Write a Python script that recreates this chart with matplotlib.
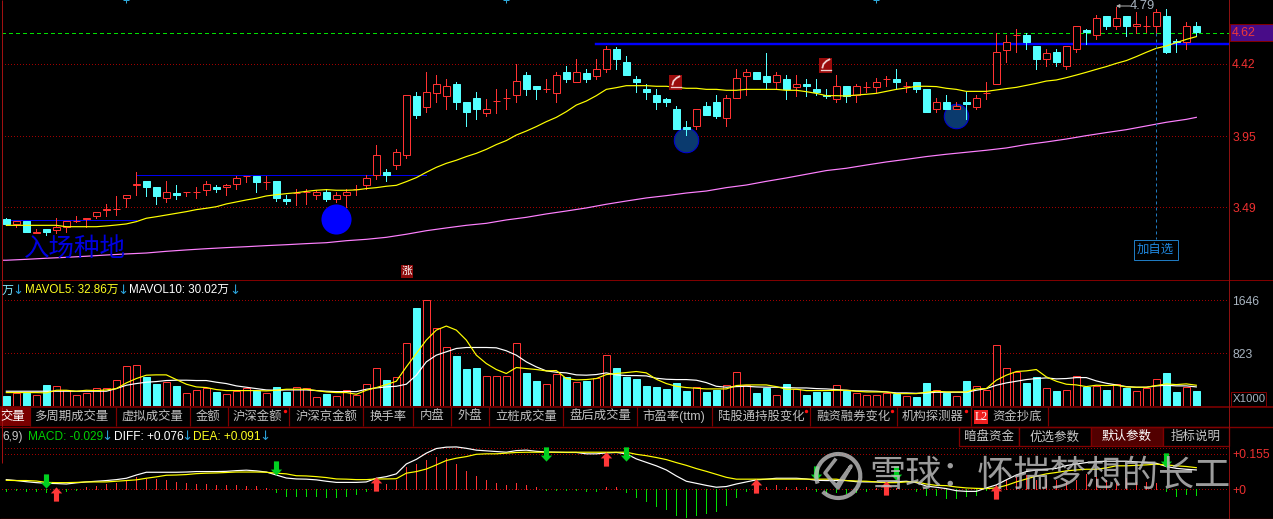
import matplotlib
matplotlib.use("Agg")
import matplotlib.pyplot as plt
from matplotlib.patches import Rectangle, Arc
from matplotlib.path import Path

# ---------- data ----------
opens = [3.41,3.38,3.40,3.32,3.35,3.34,3.36,3.40,3.41,3.43,
         3.47,3.48,3.55,3.63,3.66,3.62,3.55,3.58,3.59,3.59,
         3.60,3.62,3.62,3.64,3.69,3.69,3.65,3.66,3.54,3.58,
         3.59,3.57,3.59,3.54,3.57,3.61,3.63,3.70,3.72,3.76,
         3.83,4.21,4.14,4.23,4.21,4.29,4.17,4.20,4.10,4.18,
         4.20,4.22,4.35,4.28,4.26,4.23,4.37,4.30,4.36,4.34,
         4.39,4.52,4.43,4.32,4.26,4.22,4.19,4.13,4.01,4.02,
         4.15,4.17,4.07,4.20,4.34,4.37,4.34,4.30,4.32,4.27,
         4.29,4.26,4.22,4.19,4.28,4.22,4.27,4.27,4.32,4.32,
         4.28,4.30,4.26,4.13,4.17,4.13,4.17,4.14,4.23,4.29,
         4.51,4.61,4.61,4.54,4.45,4.50,4.41,4.52,4.64,4.61,
         4.73,4.67,4.73,4.67,4.67,4.67,4.73,4.57,4.56,4.67]
highs = [3.42,3.40,3.40,3.35,3.35,3.42,3.40,3.43,3.42,3.46,
         3.51,3.56,3.57,3.72,3.66,3.62,3.66,3.63,3.59,3.62,
         3.66,3.63,3.64,3.69,3.69,3.69,3.69,3.66,3.57,3.61,
         3.61,3.60,3.61,3.59,3.61,3.63,3.70,3.89,3.74,3.87,
         4.22,4.24,4.37,4.35,4.32,4.30,4.17,4.24,4.19,4.26,
         4.26,4.42,4.37,4.28,4.32,4.37,4.41,4.45,4.39,4.45,
         4.54,4.53,4.47,4.34,4.29,4.26,4.20,4.15,4.05,4.13,
         4.17,4.22,4.22,4.39,4.39,4.37,4.49,4.37,4.35,4.35,
         4.32,4.32,4.26,4.35,4.28,4.29,4.30,4.33,4.34,4.39,
         4.30,4.30,4.26,4.20,4.22,4.17,4.24,4.22,4.30,4.62,
         4.61,4.65,4.62,4.54,4.52,4.52,4.54,4.67,4.65,4.74,
         4.73,4.79,4.73,4.76,4.73,4.78,4.78,4.58,4.69,4.69]
lows = [3.37,3.36,3.33,3.32,3.31,3.32,3.33,3.39,3.36,3.42,
        3.43,3.44,3.49,3.57,3.56,3.51,3.52,3.54,3.56,3.55,
        3.57,3.59,3.57,3.61,3.65,3.59,3.61,3.53,3.51,3.50,
        3.51,3.54,3.53,3.52,3.49,3.57,3.61,3.67,3.66,3.74,
        3.81,4.07,4.11,4.17,4.13,4.13,4.02,4.06,4.08,4.10,
        4.13,4.17,4.22,4.19,4.24,4.17,4.30,4.30,4.30,4.32,
        4.37,4.39,4.35,4.24,4.19,4.13,4.15,4.00,3.96,4.00,
        4.09,4.07,4.02,4.20,4.22,4.32,4.26,4.26,4.19,4.21,
        4.21,4.22,4.20,4.17,4.17,4.17,4.24,4.24,4.28,4.26,
        4.24,4.24,4.11,4.11,4.13,4.13,4.06,4.13,4.19,4.29,
        4.43,4.50,4.52,4.39,4.41,4.41,4.39,4.50,4.55,4.58,
        4.65,4.65,4.60,4.62,4.63,4.61,4.49,4.50,4.52,4.60]
closes = [3.38,3.40,3.33,3.33,3.33,3.36,3.40,3.40,3.42,3.46,
          3.48,3.48,3.57,3.64,3.62,3.56,3.59,3.57,3.59,3.59,
          3.64,3.61,3.63,3.68,3.69,3.65,3.65,3.55,3.53,3.58,
          3.59,3.59,3.54,3.57,3.59,3.61,3.68,3.83,3.70,3.85,
          4.22,4.09,4.24,4.29,4.28,4.17,4.11,4.13,4.13,4.18,
          4.20,4.31,4.26,4.26,4.26,4.35,4.32,4.37,4.32,4.39,
          4.52,4.45,4.35,4.30,4.24,4.17,4.17,4.00,4.00,4.13,
          4.09,4.08,4.20,4.33,4.37,4.32,4.30,4.35,4.26,4.29,
          4.28,4.24,4.21,4.28,4.21,4.28,4.27,4.30,4.32,4.30,
          4.28,4.26,4.11,4.17,4.13,4.15,4.16,4.20,4.23,4.50,
          4.56,4.61,4.56,4.45,4.49,4.43,4.54,4.67,4.63,4.72,
          4.67,4.72,4.67,4.68,4.67,4.76,4.50,4.56,4.67,4.63]
ma_yellow = [3.371,3.371,3.371,3.371,3.371,3.371,3.362,3.362,3.362,3.362,
             3.367,3.373,3.380,3.395,3.417,3.427,3.438,3.449,3.460,3.473,
             3.482,3.492,3.510,3.523,3.536,3.547,3.562,3.570,3.577,3.583,
             3.592,3.599,3.603,3.599,3.599,3.601,3.610,3.616,3.625,3.631,
             3.655,3.681,3.716,3.748,3.774,3.794,3.818,3.839,3.865,3.896,
             3.922,3.958,3.984,4.013,4.045,4.073,4.110,4.153,4.179,4.214,
             4.255,4.266,4.279,4.279,4.279,4.275,4.275,4.268,4.262,4.262,
             4.255,4.255,4.249,4.249,4.255,4.255,4.255,4.255,4.249,4.249,
             4.240,4.229,4.214,4.214,4.212,4.218,4.223,4.229,4.242,4.255,
             4.264,4.275,4.275,4.273,4.262,4.255,4.242,4.242,4.242,4.251,
             4.260,4.268,4.281,4.294,4.309,4.316,4.331,4.348,4.366,4.385,
             4.403,4.424,4.442,4.468,4.496,4.522,4.537,4.559,4.580,4.598]
ma_pink_idx = [-0.4] + list(range(0, 120, 2)) + [119]
ma_pink = [3.144,3.144,3.150,3.157,3.163,3.170,3.178,3.185,3.191,3.202,3.211,
           3.219,3.226,3.232,3.239,3.245,3.252,3.258,3.271,3.280,3.293,
           3.313,3.336,3.354,3.371,3.384,3.406,3.423,3.445,3.464,3.484,
           3.508,3.529,3.549,3.564,3.581,3.594,3.616,3.633,3.657,3.679,
           3.703,3.727,3.742,3.763,3.783,3.800,3.818,3.833,3.846,3.859,
           3.874,3.896,3.913,3.932,3.954,3.974,3.993,4.017,4.041,4.060,4.073]
volumes = [156,213,213,182,327,322,254,182,213,291,
           280,415,633,649,452,343,379,311,213,260,
           291,218,197,244,291,244,213,296,218,306,
           291,151,187,166,260,182,353,602,405,462,
           976,1526,1645,1209,913,778,576,592,477,477,
           477,976,514,389,353,509,452,384,389,446,
           804,592,452,420,311,296,265,358,234,306,
           218,249,337,540,337,202,280,182,343,275,
           171,218,218,337,234,213,182,182,213,197,
           166,140,358,260,202,166,389,322,260,945,
           602,529,358,452,291,234,260,467,296,322,
           249,353,291,244,291,431,514,218,306,234]
mavol5 = [213,213,213,213,208,249,249,234,249,244,
          254,275,363,431,483,488,488,415,343,301,
          291,260,244,244,244,244,239,249,265,265,
          265,244,223,213,213,187,249,291,337,389,
          612,820,1028,1183,1246,1183,1028,794,664,571,
          509,602,586,571,550,555,431,410,415,431,
          493,509,524,540,519,420,353,311,291,280,
          270,270,270,322,332,332,332,306,265,265,
          244,244,244,249,249,234,223,223,223,197,
          197,197,218,234,223,223,223,270,275,405,
          483,540,550,571,457,389,343,332,306,327,
          322,327,301,296,296,322,348,337,348,327]
mavol10 = [234,234,234,234,234,234,234,234,234,234,
           234,275,327,353,374,384,400,405,405,400,
           400,374,353,317,296,275,254,249,254,254,
           254,244,234,228,228,228,265,285,301,311,
           343,483,690,794,846,898,913,913,913,908,
           862,794,690,612,550,529,519,488,483,493,
           519,488,477,477,472,436,420,415,415,405,
           368,311,296,306,311,301,296,296,291,285,
           285,275,270,260,249,239,239,234,223,208,
           208,202,208,218,218,218,218,249,275,327,
           363,389,415,431,441,426,431,446,446,394,
           358,332,306,296,296,317,327,317,317,301]
macd_hist = [-.006,-.004,-.006,-.009,-.010,-.007,-.006,-.002,.010,.014,
             .023,.029,.039,.052,.045,.045,.039,.032,.029,.023,
             .025,.019,.019,.019,.014,.014,.006,-.012,-.029,-.029,
             -.029,-.029,-.033,-.033,-.029,-.020,-.006,.012,.023,.039,
             .097,.112,.128,.141,.136,.110,.080,.058,.041,.028,
             .019,.028,.019,.010,-.002,-.002,-.002,-.001,-.006,-.006,
             .010,.010,-.010,-.033,-.051,-.072,-.086,-.112,-.125,-.112,
             -.103,-.094,-.068,-.033,-.006,.010,.010,.019,.010,.010,
             .010,-.006,-.015,-.010,-.015,-.012,-.006,.004,.004,.004,
             .003,-.007,-.025,-.025,-.038,-.038,-.029,-.025,-.003,.019,
             .041,.055,.062,.041,.044,.041,.033,.041,.067,.055,
             .041,.029,.048,.033,.033,.029,-.007,-.029,-.020,-.025]
dea = [.039,.038,.038,.036,.030,.029,.029,.030,.032,.032,
       .032,.035,.038,.041,.048,.054,.061,.062,.064,.068,
       .070,.071,.073,.075,.075,.075,.074,.070,.067,.059,
       .058,.055,.051,.045,.044,.042,.042,.045,.045,.046,
       .070,.077,.088,.106,.125,.135,.142,.152,.154,.154,
       .157,.160,.161,.161,.161,.161,.161,.161,.161,.161,
       .161,.161,.161,.152,.146,.138,.129,.116,.104,.090,
       .078,.065,.052,.044,.044,.044,.044,.044,.044,.044,
       .044,.044,.044,.044,.038,.036,.035,.032,.029,.029,
       .032,.032,.023,.017,.016,.010,.006,.004,.003,.006,
       .017,.032,.045,.057,.067,.073,.080,.084,.087,.087,
       .093,.102,.102,.104,.106,.109,.106,.102,.099,.094]
diff = [.042,.038,.033,.029,.026,.025,.023,.028,.032,.035,
        .038,.042,.048,.062,.074,.074,.074,.074,.075,.077,
        .077,.077,.078,.081,.083,.080,.075,.062,.049,.045,
        .044,.041,.035,.030,.030,.030,.032,.048,.055,.067,
        .110,.130,.157,.177,.183,.184,.178,.170,.167,.164,
        .161,.168,.170,.165,.162,.161,.160,.160,.154,.154,
        .158,.160,.154,.132,.117,.102,.084,.058,.035,.026,
        .017,.009,.012,.023,.032,.041,.044,.048,.048,.048,
        .045,.039,.038,.038,.038,.033,.032,.032,.029,.033,
        .035,.029,.014,.009,.003,-.006,-.009,-.009,.006,.019,
        .041,.062,.077,.084,.087,.091,.103,.110,.116,.120,
        .122,.122,.122,.119,.117,.113,.099,.091,.087,.084]
price_ticks = [4.42, 3.95, 3.49]
price_tick_labels = ["4.42", "3.95", "3.49"]
vol_ticks = [1646, 823]
vol_tick_labels = ["1646", "823"]
macd_ticks = [0.155, 0]
macd_tick_labels = ["+0.155", "+0"]
macd_extra_grid = [0.18]
current_price = 4.62
resistance_levels = [(-0.4, 5, 3.408), (5, 13, 3.404), (13, 42, 3.696)]
strong_level = (59, 4.55)
entry_big = ([33], [3.41])
entry_dim = ([68, 95], [3.926, 4.082])
sell_arrows_i = [4, 27, 54, 62, 81, 89, 116]
sell_arrows_v = [.036, .092, .153, .153, .071, .071, .127]
buy_arrows_i = [5, 37, 60, 75, 88, 99]
buy_arrows_v = [-.020, .023, .131, .014, .006, -.010]
top_marks_i = [12, 50, 87]
tabs = [("多周期成交量", 71.5), ("虚拟成交量", 152), ("金额", 208), ("沪深金额", 257),
        ("沪深京金额", 326), ("换手率", 388), ("内盘", 432), ("外盘", 470),
        ("立桩成交量", 526), ("盘后成交量", 600), ("市盈率(ttm)", 674),
        ("陆股通持股变化", 761), ("融资融券变化", 853), ("机构探测器", 933), ("资金抄底", 1017)]
tab_seps = [29.7, 115.7, 189.7, 227.7, 289.3, 363.3, 413.3, 451.3, 489.3, 563.3,
            637.3, 712.3, 810.3, 896.7, 970.7, 1048.3]
tab_dots = [285, 806, 892, 966]
buttons = [("暗盘资金", 959, 1019), ("优选参数", 1019, 1091), ("默认参数", 1091, 1163), ("指标说明", 1163, 1229)]

# ---------- style ----------
FONT = ["Liberation Sans", "Noto Sans CJK SC", "DejaVu Sans"]
CJK = ["Noto Sans CJK SC", "DejaVu Sans"]
plt.rcParams["font.family"] = FONT
BG = "#000000"; RED = "#ff3232"; CYAN = "#54ffff"; GRID = "#a00000"; FRAME = "#800000"
ARROW_BLUE = "#2a9fd6"; PX = 0.72
W, H = 1273, 519

fig = plt.figure(figsize=(W / 100, H / 100), dpi=100, facecolor=BG)

def panel(l, t, r, b):
    ax = fig.add_axes([l / W, 1 - b / H, (r - l) / W, (b - t) / H], facecolor=BG)
    ax.set_xlim(-0.483, 122.27)
    ax.set_xticks([])
    for s in ("top", "left", "bottom"):
        ax.spines[s].set_visible(False)
    ax.spines["right"].set_color("#8b1010")
    ax.spines["right"].set_linewidth(PX)
    ax.yaxis.tick_right()
    ax.tick_params(axis="y", length=0, pad=2.2, labelsize=8.7)
    return ax

ax_p = panel(1.5, 0, 1229, 279)
ax_v = panel(1.5, 280, 1229, 406.3)
ax_m = panel(1.5, 427, 1229, 518)
ax_p.set_ylim(3.022, 4.836)
ax_v.set_ylim(0, 1961)
ax_m.set_ylim(-0.1246, 0.2705)

idx = list(range(len(closes)))
up = [c >= o for o, c in zip(opens, closes)]
dotted = dict(color=GRID, lw=PX, ls=(0, (1, 2.4)), zorder=1, antialiased=False)
MA_LW = PX * 1.2

# ---------- price pane ----------
for t in price_ticks:
    ax_p.axhline(t, **dotted)
ax_p.set_yticks(price_ticks, price_tick_labels, color="#ee3030")
ax_p.axhline(current_price, color="#00e000", lw=PX, ls=(0, (4, 3)), zorder=1, antialiased=False)
for x0, x1, level in resistance_levels:
    ax_p.plot([x0, x1], [level, level], color="#0000f0", lw=PX, zorder=2, antialiased=False)
ax_p.plot([strong_level[0], 122.27], [strong_level[1]] * 2, color="#0000ff", lw=PX * 2.4, zorder=2)
ax_p.scatter(*entry_big, s=470, color="#0000ff", zorder=2.5, linewidths=0)
ax_p.scatter(*entry_dim, s=310, facecolor="#0a3a6e", edgecolor="#0000d8", linewidths=PX, zorder=2.5)

colors = [RED if u else CYAN for u in up]
ax_p.vlines(idx, lows, highs, colors=colors, lw=PX, zorder=3, antialiased=False)
body_low = [min(o, c) for o, c in zip(opens, closes)]
body_h = [abs(o - c) for o, c in zip(opens, closes)]
ax_p.bar(idx, body_h, bottom=body_low, width=0.68,
         color=[BG if u else CYAN for u in up],
         edgecolor=[RED if u else CYAN for u in up], linewidth=PX, zorder=4)
ax_p.plot(idx, ma_yellow, color="#ffff00", lw=MA_LW, zorder=5)
ax_p.plot(ma_pink_idx, ma_pink, color="#ff80ff", lw=MA_LW, zorder=5)
ax_p.scatter(top_marks_i, [4.833] * 3, marker="+", s=14, color="#2fa8d8", linewidths=PX, zorder=5)

# ---------- volume pane ----------
for t in vol_ticks:
    ax_v.axhline(t, **dotted)
ax_v.set_yticks(vol_ticks, vol_tick_labels, color="#a8b4c0")
ax_v.bar(idx, volumes, width=0.68, color=[BG if u else CYAN for u in up],
         edgecolor=[RED if u else CYAN for u in up], linewidth=PX, zorder=3)
ax_v.plot(idx, mavol10, color="#ffffff", lw=MA_LW, zorder=4)
ax_v.plot(idx, mavol5, color="#ffff00", lw=MA_LW, zorder=5)

# ---------- MACD pane ----------
for t in macd_ticks + macd_extra_grid:
    ax_m.axhline(t, **dotted)
ax_m.set_yticks(macd_ticks, macd_tick_labels, color="#ee3030")
ax_m.vlines(idx, 0, macd_hist, colors=[RED if v > 0 else "#00e000" for v in macd_hist], lw=PX, zorder=3, antialiased=False)
ax_m.plot(idx, diff, color="#ffffff", lw=MA_LW, zorder=4)
ax_m.plot(idx, dea, color="#ffff00", lw=MA_LW, zorder=5)
up_arrow = Path([(0, 1), (.8, .15), (.36, .15), (.36, -1), (-.36, -1), (-.36, .15), (-.8, .15), (0, 1)])
down_arrow = Path([(0, -1), (.8, -.15), (.36, -.15), (.36, 1), (-.36, 1), (-.36, -.15), (-.8, -.15), (0, -1)])
ax_m.scatter(sell_arrows_i, sell_arrows_v, marker=down_arrow, s=105, color="#00d020", linewidths=0, zorder=6)
ax_m.scatter(buy_arrows_i, buy_arrows_v, marker=up_arrow, s=105, color="#ff3838", linewidths=0, zorder=6)

# ---------- overlay in pixel coordinates ----------
ui = fig.add_axes([0, 0, 1, 1], facecolor="none")
ui.set_xlim(0, W); ui.set_ylim(H, 0); ui.axis("off")

def hline(y, x0=0, x1=W, c=FRAME, lw=1.0):
    ui.plot([x0, x1], [y, y], color=c, lw=lw * PX, solid_capstyle="butt")

def vline(x, y0, y1, c=FRAME, lw=1.0):
    ui.plot([x, x], [y0, y1], color=c, lw=lw * PX, solid_capstyle="butt")

def label(x, y, s, color, size=8.6, ha="left", family=None, **kw):
    return ui.text(x, y, s, color=color, fontsize=size, ha=ha, va="center",
                   family=family or FONT, **kw)

vline(1.5, 0, 463, c="#a01010")
hline(279.5); hline(406.8, lw=1.6); hline(426.5, lw=1.4); hline(518.5, lw=1.4, c="#8b0000")
vline(1229, 279, 519, c="#8b1010")

# tabs
ui.add_patch(Rectangle((0, 407), 29.7, 19, color="#7a0000", lw=0))
label(0, 416.5, "交量", "#ffffff", size=8.9, family=CJK)
for x in tab_seps:
    vline(x, 407, 426, lw=1.2)
for s, x in tabs:
    label(x, 416.5, s, "#c0c0c0", size=8.9, ha="center")
ui.scatter(tab_dots, [411] * 4, s=6, color="#ff1010", linewidths=0)
ui.add_patch(Rectangle((974, 409.5), 14, 14.5, color="#f02020", lw=0))
label(981, 416.8, "L2", "#ffffff", size=8.6, ha="center", family=["Liberation Serif"])

# header lines
ARROW_FONT = ["DejaVu Sans"]
label(2, 290, "万", "#80e8ff", family=CJK)
for x in (12.5, 117.5, 229):
    label(x, 290, "↓", ARROW_BLUE, size=9.5, family=ARROW_FONT)
label(24.7, 290, "MAVOL5: 32.86万", "#ffff20", size=8.4)
label(129, 290, "MAVOL10: 30.02万", "#ffffff", size=8.4)
label(2, 437, "6,9)", "#c8c8c8")
label(28, 437, "MACD: -0.029", "#00d000")
label(113.5, 437, "DIFF: +0.076", "#ffffff")
label(193, 437, "DEA: +0.091", "#ffff20")
for x in (101, 181, 259):
    label(x, 437, "↓", ARROW_BLUE, size=9.5, family=ARROW_FONT)

# buttons
for s, x0, x1 in buttons:
    active = s == "默认参数"
    ui.add_patch(Rectangle((x0, 427), x1 - x0, 19.2, facecolor="#520000" if active else BG,
                           edgecolor=FRAME, lw=PX * 1.3))
    label((x0 + x1) / 2, 436.8, s, "#ffffff" if active else "#c8c8c8", size=9, ha="center", family=CJK)

# current price tag, axis box
ui.add_patch(Rectangle((1229.5, 24), 44, 16.5, facecolor="#480c88", edgecolor=FRAME, lw=PX))
label(1232, 32.5, "4.62", "#ee3838", size=8.9)
ui.add_patch(Rectangle((1230.5, 391.5), 35.5, 14, facecolor=BG, edgecolor=FRAME, lw=PX))
label(1233, 398.8, "X1000", "#a8b4c0", size=8.2)

# peak label
ui.annotate("", xy=(1116, 6), xytext=(1130, 6),
            arrowprops=dict(arrowstyle="-|>", color="#b0b0b0", lw=PX, mutation_scale=5, shrinkA=0, shrinkB=0))
label(1130, 6, "4.79", "#a8b4c0", size=9.4)

# add-to-watchlist
ui.plot([1155.5, 1155.5], [33, 239], color="#1f7ac0", lw=PX, ls=(0, (3, 3)))
ui.add_patch(Rectangle((1133.5, 239.5), 44, 20, facecolor=BG, edgecolor="#1f7ac0", lw=PX))
label(1155.5, 249.5, "加自选", "#1f88e0", size=8.9, ha="center", family=CJK)

# entry text and badges
label(24, 249, "入场种地", "#0000e0", size=18.4, family=CJK)
ui.add_patch(Rectangle((401, 265), 12, 12.5, color="#8c0a0a", lw=0))
label(407, 271, "涨", "#ffffff", size=7.6, ha="center", family=CJK)
for cx, cy in ((675.5, 82), (825.5, 65)):
    ui.add_patch(Rectangle((cx - 6.5, cy - 7.5), 13, 15, color="#9a0c0c", lw=0))
    ui.plot([cx - 3, cx - 2, cx + 1, cx + 3.8], [cy + 2.5, cy - 1, cy - 4, cy - 5.5], color="#f0d0d0", lw=1.3)
    ui.plot([cx - 5, cx + 5], [cy + 5, cy + 5], color="#f0d0d0", lw=PX * 1.3)

# watermark
wm = "#c0c0c0"
ui.add_patch(Arc((838.3, 476), 44, 44, theta1=-200, theta2=135, color=wm, lw=3, alpha=0.8))
ui.plot([835, 825, 838, 851, 838], [460, 473, 488, 466, 484], color=wm, lw=2.6, alpha=0.8)
label(869, 476, "雪球：怀揣梦想的长工", wm, size=26, family=CJK, weight="medium", alpha=0.82)

fig.savefig("out.png", dpi=100, facecolor=BG)
